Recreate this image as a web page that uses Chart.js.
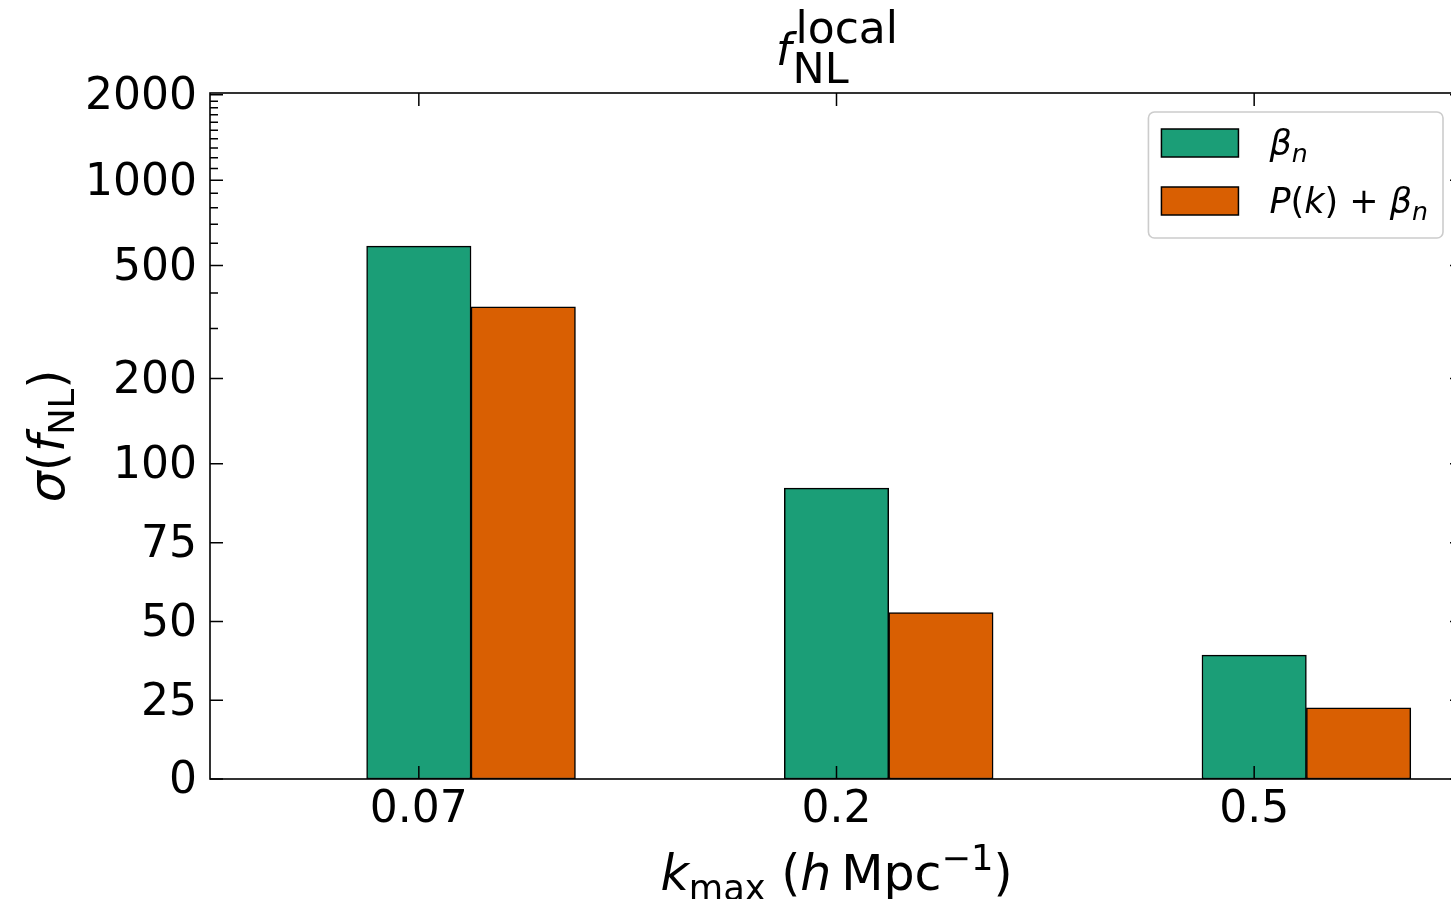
<!DOCTYPE html>
<html>
<head>
<meta charset="utf-8">
<script src="https://cdn.jsdelivr.net/npm/chart.js@4.4.0/dist/chart.umd.min.js"></script>
<style>
  html, body { margin: 0; padding: 0; overflow: hidden; background: #fff; }
  canvas { display: block; }
</style>
</head>
<body>
<canvas id="sigmaChart" width="1463" height="899"></canvas>
<script>
// values
const kLabels = ['0.07', '0.2', '0.5'];
const sigmaBeta = [586, 92.3, 39.3];
const sigmaPkBeta = [358, 52.8, 22.6];
const yTicks = [0, 25, 50, 75, 100, 200, 500, 1000, 2000];
const yMinorTicks = [300, 400, 600, 700, 800, 900, 1100, 1200, 1300, 1400, 1500, 1600, 1700, 1800, 1900];
const barWidth = 0.25;

const FAM = "'DejaVu Sans', sans-serif";
const GREEN = '#1b9e77';
const ORANGE = '#d95f02';

// symlog like matplotlib: linthresh 100, linscale 1
const LINTHRESH = 100;
const LINSCALE = 1 / (1 - 1 / 10);
const tf = v => v <= LINTHRESH ? v / LINTHRESH * LINSCALE : LINSCALE + Math.log10(v / LINTHRESH);
const itf = t => t <= LINSCALE ? t / LINSCALE * LINTHRESH : LINTHRESH * Math.pow(10, t - LINSCALE);

class SymlogScale extends Chart.LinearScale {
  static id = 'symlog';
  buildTicks() {
    return yTicks.map(v => ({ value: v }));
  }
  configure() {
    super.configure();
    this._tStart = tf(this.min);
    this._tRange = tf(this.max) - this._tStart;
  }
  getPixelForValue(value) {
    if (value === undefined || value === null || isNaN(value)) return NaN;
    return this.getPixelForDecimal((tf(value) - this._tStart) / this._tRange);
  }
  getValueForPixel(pixel) {
    return itf(this._tStart + this.getDecimalForPixel(pixel) * this._tRange);
  }
}
Chart.register(SymlogScale);

// small rich text helper: [text, flags]  i = italic, b = subscript, p = superscript
function drawRuns(ctx, runs, size, x, y, align) {
  let pos = 0;
  const items = runs.map(([t, f = '']) => {
    const small = f.includes('b') || f.includes('p');
    const s = small ? size * 0.72 : size;
    const font = (f.includes('i') ? 'italic ' : '') + s + 'px ' + FAM;
    ctx.font = font;
    const w = ctx.measureText(t).width;
    const dy = f.includes('b') ? size * 0.2 : (f.includes('p') ? -size * 0.4 : 0);
    const it = { t, x: pos, dy, font };
    pos += w;
    return it;
  });
  const x0 = align === 'center' ? x - pos / 2 : x;
  ctx.textAlign = 'left';
  ctx.textBaseline = 'alphabetic';
  ctx.fillStyle = '#000';
  items.forEach(it => {
    ctx.font = it.font;
    ctx.fillText(it.t, x0 + it.x, y + it.dy);
  });
  return pos;
}

const legendRuns = [
  [['β', 'i'], ['n', 'ib']],
  [['P', 'i'], ['('], ['k', 'i'], [')'], [' + '], ['β', 'i'], ['n', 'ib']]
];

const framePlugin = {
  id: 'frame',
  afterDraw(chart) {
    const ctx = chart.ctx;
    const a = chart.chartArea;
    const xs = chart.scales.x, ys = chart.scales.y;
    ctx.save();
    ctx.strokeStyle = '#000';
    ctx.lineWidth = 1.6;
    ctx.strokeRect(a.left, a.top, a.right - a.left, a.bottom - a.top);

    // inward ticks
    ctx.lineWidth = 1.5;
    ctx.beginPath();
    const major = 13, minor = 8;
    ys.ticks.forEach(t => {
      const py = ys.getPixelForValue(t.value);
      ctx.moveTo(a.left, py); ctx.lineTo(a.left + major, py);
      ctx.moveTo(a.right, py); ctx.lineTo(a.right - major, py);
    });
    yMinorTicks.forEach(v => {
      const py = ys.getPixelForValue(v);
      ctx.moveTo(a.left, py); ctx.lineTo(a.left + minor, py);
      ctx.moveTo(a.right, py); ctx.lineTo(a.right - minor, py);
    });
    xs.ticks.forEach(t => {
      const px = xs.getPixelForValue(t.value);
      ctx.moveTo(px, a.bottom); ctx.lineTo(px, a.bottom - major);
      ctx.moveTo(px, a.top); ctx.lineTo(px, a.top + major);
    });
    ctx.stroke();

    // title
    const cx = (a.left + a.right) / 2;
    ctx.font = 'italic 44px ' + FAM;
    const fw = ctx.measureText('f').width;
    ctx.font = '44px ' + FAM;
    const supW = ctx.measureText('local').width;
    const subW = ctx.measureText('NL').width;
    const tx = cx - (fw + 3 + Math.max(supW, subW)) / 2;
    ctx.fillStyle = '#000';
    ctx.textAlign = 'left';
    ctx.textBaseline = 'alphabetic';
    ctx.font = 'italic 44px ' + FAM;
    ctx.fillText('f', tx, 65);
    ctx.font = '44px ' + FAM;
    ctx.fillText('local', tx + fw + 4, 43);
    ctx.font = '43px ' + FAM;
    ctx.fillText('NL', tx + fw + 1, 83);

    // axis titles
    drawRuns(ctx, [['k', 'i'], ['max', 'b'], [' ('], ['h', 'i'], ['\u2009Mpc'], ['\u22121', 'p'], [')']], 49, cx, 890, 'center');
    ctx.save();
    ctx.translate(64, (a.top + a.bottom) / 2);
    ctx.rotate(-Math.PI / 2);
    drawRuns(ctx, [['σ', 'i'], ['('], ['f', 'i'], ['NL', 'b'], [')']], 49, 0, 0, 'center');
    ctx.restore();

    // legend
    const size = 35;
    let maxW = 0;
    legendRuns.forEach(r => {
      let w = 0;
      r.forEach(([t, f = '']) => {
        const s = (f.includes('b') || f.includes('p')) ? size * 0.72 : size;
        ctx.font = (f.includes('i') ? 'italic ' : '') + s + 'px ' + FAM;
        w += ctx.measureText(t).width;
      });
      maxW = Math.max(maxW, w);
    });
    const bw = 13 + 77 + 31 + maxW + 15, bh = 126;
    const bx = a.right - 20 - bw, by = a.top + 19;
    ctx.beginPath();
    ctx.roundRect(bx, by, bw, bh, 6);
    ctx.fillStyle = 'rgba(255,255,255,0.8)';
    ctx.fill();
    ctx.strokeStyle = '#cccccc';
    ctx.lineWidth = 1.6;
    ctx.stroke();
    chart.data.datasets.forEach((ds, i) => {
      const ry = by + 17 + i * 58;
      ctx.fillStyle = ds.backgroundColor;
      ctx.fillRect(bx + 13, ry, 77, 28);
      ctx.strokeStyle = '#000';
      ctx.lineWidth = 1.5;
      ctx.strokeRect(bx + 13, ry, 77, 28);
      drawRuns(ctx, legendRuns[i], size, bx + 13 + 77 + 31, ry + 26, 'left');
    });
    ctx.restore();
  }
};

const barStyle = {
  borderColor: '#000',
  borderWidth: 1.5,
  borderSkipped: false,
  grouped: false,
  barPercentage: 1,
  categoryPercentage: 1
};

new Chart(document.getElementById('sigmaChart'), {
  type: 'bar',
  data: {
    datasets: [
      Object.assign({
        label: 'beta_n',
        data: kLabels.map((k, i) => ({ x: i, y: sigmaBeta[i] })),
        backgroundColor: GREEN
      }, barStyle),
      Object.assign({
        label: 'P(k) + beta_n',
        data: kLabels.map((k, i) => ({ x: i + barWidth, y: sigmaPkBeta[i] })),
        backgroundColor: ORANGE
      }, barStyle)
    ]
  },
  options: {
    responsive: false,
    animation: false,
    layout: { padding: { top: 93, left: 0, right: 0, bottom: 0 } },
    plugins: { legend: { display: false }, tooltip: { enabled: false }, title: { display: false } },
    scales: {
      x: {
        type: 'linear',
        min: -0.5,
        max: 2.5,
        offset: false,
        grid: { display: false, drawTicks: false },
        border: { display: false },
        afterBuildTicks: s => { s.ticks = kLabels.map((k, i) => ({ value: i })); },
        afterFit: s => { s.height = 120; },
        ticks: {
          autoSkip: false,
          maxRotation: 0,
          padding: 5,
          color: '#000',
          font: { family: FAM, size: 44 },
          callback: v => kLabels[v]
        }
      },
      y: {
        type: 'symlog',
        min: 0,
        max: 2030,
        grid: { display: false, drawTicks: false },
        border: { display: false },
        afterFit: s => { s.width = 210; },
        ticks: {
          autoSkip: false,
          padding: 13,
          labelOffset: 3,
          color: '#000',
          font: { family: FAM, size: 44 },
          callback: v => String(v)
        }
      }
    }
  },
  plugins: [framePlugin]
});
</script>
</body>
</html>
